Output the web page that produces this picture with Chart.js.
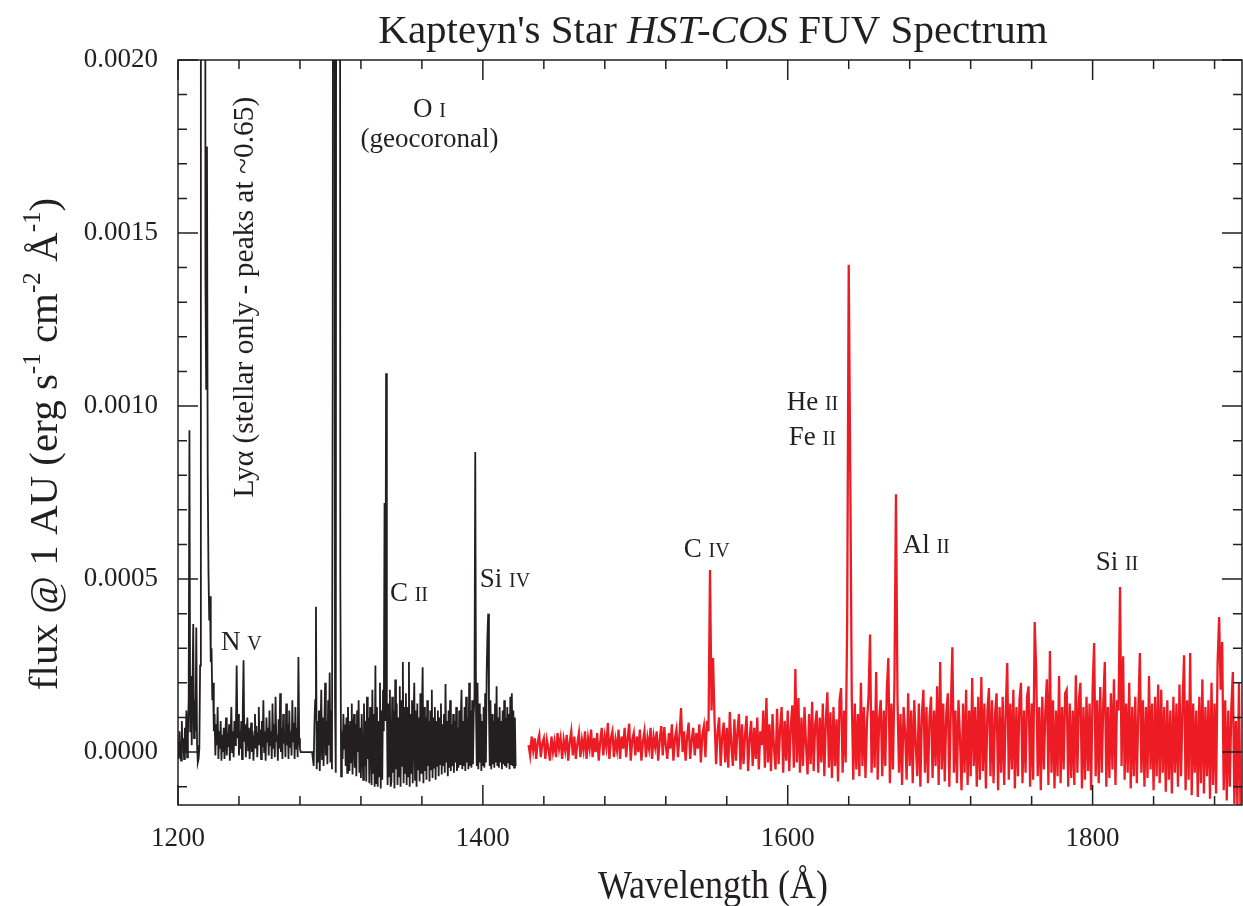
<!DOCTYPE html>
<html>
<head>
<meta charset="utf-8">
<script src="https://cdn.jsdelivr.net/npm/chart.js@4.4.1/dist/chart.umd.min.js"></script>
<style>
  body { margin: 0; background: #fff; }
  canvas { display: block; }
</style>
</head>
<body>
<canvas id="spectrum" width="1243" height="906"></canvas>
<script>
// flux values are in units of 1e-6 erg s^-1 cm^-2 A^-1
const FLUX_UNIT = 1e-6;

// G130M part (black), sampled every 0.5 A from 1200 A
const blackStart = 1200;
const blackStep = 0.5;
const blackFlux = [
  30, -20, 60, 5, -25, 90, 10, 40, -20, 70, 0, 120, -15, 50, 150, 930, 60, 220, 20, 180,
  370, 40, 150, 60, 360, 20, -30, -20, 10, 250, 2500, 6500, 6500, 6500, 6500, 6500, 1370, 1050, 1750, 800,
  520, 380, 450, 260, 300, 150, 200, 60, 110, -10, 80, 20, 130, -20, 60, 10, 90, -25, 50, 0,
  70, -20, 40, 100, -10, 55, 15, 80, -25, 45, 130, 0, 60, -15, 90, 20, 70, 250, 40, 110,
  -10, 60, 10, 90, -20, 120, 265, 30, 80, -15, 50, 100, 5, 70, -20, 40, 85, 0, 60, -25,
  45, 110, 10, 75, -15, 55, 130, 20, 65, -20, 90, 15, 150, 0, 60, -25, 100, 30, 70, -10,
  120, 20, 60, -20, 140, 10, 80, -15, 160, 30, 50, -25, 95, 10, 170, 0, 70, -20, 110, 25,
  60, -15, 140, 20, 80, -20, 120, 15, 60, -10, 150, 30, 85, -20, 130, 10, 70, -15, 275, 40,
  10, 0, 0, 0, 0, 0, 0, 0, 0, 0, 0, 0, 0, 0, 0, 0, 0, 0, -40, 80,
  150, 420, -50, 90, -30, 120, -55, 60, 180, -20, 100, -40, 70, 200, -10, 90, -35, 150, 20, 230,
  -30, 120, -50, 1100, 5000, 5000, 150, -60, 5000, 5000, 5000, 5000, 5000, 500, -70, 60, -20, 110, 10, 80,
  -40, 100, -60, 130, 20, -55, 90, -30, 140, -65, 60, 110, -45, 80, -70, 120, 0, 150, -60, 70,
  -75, 110, 10, -80, 140, -40, 90, -85, 160, -20, 100, -90, 130, 30, -95, 180, -60, 110, -100, 250,
  -90, 130, -100, 90, -70, 200, -105, 120, -80, 180, 60, 720, 90, 1095, 150, -95, 140, -70, 180, -100,
  -85, 160, -60, 120, -105, 210, -50, 140, -95, 100, -70, 190, -100, 150, -40, 260, -90, 130, -60, 170,
  -95, 130, -70, 260, -100, 110, -60, 150, -90, 90, 200, -80, 120, -100, 140, -50, 100, -85, 170, -60,
  110, 245, -90, 130, -55, 100, -80, 150, -40, 90, -85, 120, -50, 180, -75, 100, -45, 130, -80, 90,
  -40, 120, -70, 100, -35, 140, -65, 80, -40, 110, -60, 197, -30, 90, -70, 120, -45, 150, -55, 80,
  -40, 110, -60, 90, -30, 130, -55, 70, -45, 120, -35, 100, 180, -50, 90, -40, 130, -55, 160, -30,
  100, -50, 200, -40, 120, -45, 150, -35, 110, 160, 867, 120, -40, 200, -50, 140, -30, 110, -55, 90,
  -40, 130, -45, 170, -30, 230, 338, 400, 120, -40, 150, -50, 110, -35, 90, -45, 140, -30, 190, -40,
  100, -45, 130, -30, 90, -50, 120, -35, 150, -40, 100, -45, 130, -30, 110, -50, 160, -35, 170, -40, 120, -45, 100, -40
];

// G160M part (red), sampled every 1 A from 1430 A
const redStart = 1430;
const redStep = 1;
const redFlux = [
  20, -10, 45, 5, 40, -20, 30, 50, -15, 25,
  40, -20, 35, 10, -25, 45, 0, 30, -15, 55,
  10, 40, -20, 35, 5, 50, -25, 30, 60, -10,
  45, -20, 25, 55, -15, 35, 5, 60, -20, 40,
  10, 65, -15, 40, 0, 55, -25, 30, 70, -10,
  45, 15, 84, -20, 40, 60, -15, 35, 5, 65,
  -20, 45, 10, 70, -15, 40, 82, -25, 35, 55,
  -10, 45, 0, 65, -25, 30, 60, -15, 40, 10,
  70, -20, 45, 15, 60, -25, 35, 75, -10, 72,
  20, -20, 55, 10, 80, -25, 40, 65, -15, 50,
  127, 0, 60, -25, 45, 85, -20, 35, 70, -10,
  55, 10, 80, -30, 50, 75, -15, 90, 60, 526,
  120, 272, 90, -35, 60, 100, -40, 45, 85, -30,
  70, -45, 116, 20, -40, 95, -25, 60, 110, -50,
  80, -35, 50, 105, -55, 40, 90, -40, 70, -20,
  100, -50, 60, 20, 120, -45, 156, -30, 80, -55,
  110, 10, -50, 125, -35, 70, 130, -60, 90, -25,
  120, -55, 75, 135, -45, 240, -30, 156, -60, 100,
  -40, 130, 20, -65, 110, -35, 145, -55, 80, 120,
  -60, 100, -30, 140, -70, 90, 173, -45, 115, -75,
  130, -40, 95, -85, 150, 185, -60, 120, -30, 380,
  1408, 815, 160, -80, 140, -50, 110, -70, 200, -40,
  130, -75, 90, 160, 340, -60, 120, -45, 231, -80,
  100, 150, -70, 120, -40, 180, 272, -90, 140, -50,
  200, 745, 150, -60, 110, -95, 130, 60, -80, 170,
  -40, 120, -90, 150, 20, -70, 140, -100, 110, 180,
  -60, 130, -90, 100, 160, -75, 120, -40, 190, -95,
  260, -50, 140, -85, 110, 170, -100, 130, 303, -60,
  120, -90, 150, 40, -110, 140, -60, 180, -95, 120,
  -70, 214, -40, 130, -100, 160, -80, 217, -55, 140,
  -105, 120, 185, -70, 150, -90, 110, 170, -110, 130,
  -60, 160, -95, 120, 257, -80, 140, -50, 180, -105,
  130, -70, 150, 200, -90, 120, -60, 160, 190, -100,
  140, -80, 376, 237, -70, 130, -110, 160, -50, 120,
  210, -95, 292, -60, 150, -105, 120, -70, 220, -90,
  130, -50, 170, 180, -100, 140, -75, 120, -95, 222,
  -60, 150, 200, -105, 130, -80, 160, -55, 140, -110,
  180, 315, -70, 150, -90, 188, -60, 140, 260, -100,
  130, -75, 170, -50, 210, -95, 150, 120, 477, -40,
  277, -80, 140, -60, 200, -105, 130, -70, 160, -90,
  120, 286, -60, 150, -100, 130, -75, 220, -50, 140,
  -110, 160, -70, 195, -90, 180, -60, 130, -115, 150,
  -80, 120, -120, 160, -60, 140, -100, 195, -70, 130,
  280, -110, 150, -80, 286, -125, 140, -60, 120, -130,
  160, -90, 210, -120, 130, -70, 150, -135, 200, -95,
  140, -120, 257, 390, 180, 318, -110, 150, -140, 120,
  -100, 130, 231, -150, 90, -160, 200, -170
];

const xTicks = [1200, 1400, 1600, 1800];
const yTicks = [0, 0.0005, 0.0010, 0.0015, 0.0020];

// line identifications: [element, ion stage, wavelength, flux, align]
const lineIds = [
  ['O', 'I', 1365, 0.001835, 'center'],
  ['N', 'V', 1228.2, 0.000295, 'left'],
  ['C', 'II', 1339, 0.000436, 'left'],
  ['Si', 'IV', 1398, 0.000477, 'left'],
  ['C', 'IV', 1531.8, 0.000564, 'left'],
  ['He', 'II', 1599.3, 0.000988, 'left'],
  ['Fe', 'II', 1600.7, 0.000887, 'left'],
  ['Al', 'II', 1675.4, 0.000575, 'left'],
  ['Si', 'II', 1802, 0.000525, 'left']
];

const INK = '#231f20';
const RED = '#ed1c24';
const SERIF = '"Liberation Serif", "Times New Roman", serif';

function toPoints(start, step, values) {
  return values.map((v, i) => ({ x: start + i * step, y: v * FLUX_UNIT }));
}

function drawIon(ctx, x, y, el, ion, align) {
  ctx.font = '27px ' + SERIF;
  const w1 = ctx.measureText(el + ' ').width;
  ctx.font = '20px ' + SERIF;
  const w2 = ctx.measureText(ion).width;
  const x0 = align === 'center' ? x - (w1 + w2) / 2 : x;
  ctx.textAlign = 'left';
  ctx.font = '27px ' + SERIF;
  ctx.fillText(el, x0, y);
  ctx.font = '20px ' + SERIF;
  ctx.fillText(ion, x0 + w1, y);
}

function drawPieces(ctx, pieces, cx, baseline, size) {
  const supSize = Math.round(size * 0.6);
  let total = 0;
  pieces.forEach(p => {
    ctx.font = (p.sup ? supSize : size) + 'px ' + SERIF;
    total += ctx.measureText(p.t).width;
  });
  let x = cx - total / 2;
  ctx.textAlign = 'left';
  pieces.forEach(p => {
    ctx.font = (p.sup ? supSize : size) + 'px ' + SERIF;
    ctx.fillText(p.t, x, p.sup ? baseline - size * 0.42 : baseline);
    x += ctx.measureText(p.t).width;
  });
}

const decorations = {
  id: 'decorations',
  afterDatasetsDraw(chart) {
    const { ctx, chartArea: a, scales: { x, y } } = chart;
    ctx.save();
    ctx.strokeStyle = INK;
    ctx.lineWidth = 1.5;
    ctx.strokeRect(a.left, a.top, a.right - a.left, a.bottom - a.top);

    // inward tick marks on all four sides, minor every 40 A / 0.0001
    ctx.beginPath();
    for (let k = 0; 1200 + k * 40 <= x.max; k++) {
      const px = x.getPixelForValue(1200 + k * 40);
      const len = k % 5 === 0 ? 20 : 9;
      ctx.moveTo(px, a.bottom); ctx.lineTo(px, a.bottom - len);
      ctx.moveTo(px, a.top); ctx.lineTo(px, a.top + len);
    }
    for (let k = -1; k <= 20; k++) {
      const py = y.getPixelForValue(k * 0.0001);
      const len = k % 5 === 0 ? 20 : 9;
      ctx.moveTo(a.left, py); ctx.lineTo(a.left + len, py);
      ctx.moveTo(a.right, py); ctx.lineTo(a.right - len, py);
    }
    ctx.stroke();

    ctx.fillStyle = INK;
    ctx.textBaseline = 'alphabetic';
    lineIds.forEach(([el, ion, wl, f, align]) => {
      drawIon(ctx, x.getPixelForValue(wl), y.getPixelForValue(f), el, ion, align);
    });
    ctx.font = '27px ' + SERIF;
    ctx.textAlign = 'center';
    ctx.fillText('(geocoronal)', x.getPixelForValue(1365), y.getPixelForValue(0.001749));

    // Ly-alpha note, rotated
    ctx.save();
    ctx.translate(x.getPixelForValue(1243.9), y.getPixelForValue(0.001315));
    ctx.rotate(-Math.PI / 2);
    ctx.textAlign = 'center';
    ctx.textBaseline = 'middle';
    ctx.font = '29.5px ' + SERIF;
    ctx.fillText('Ly\u03b1 (stellar only - peaks at ~0.65)', 0, 0);
    ctx.restore();

    // title
    ctx.textBaseline = 'alphabetic';
    const parts = [['Kapteyn\'s Star ', ''], ['HST-COS', 'italic '], [' FUV Spectrum', '']];
    let tw = 0;
    parts.forEach(([t, s]) => { ctx.font = s + '41px ' + SERIF; tw += ctx.measureText(t).width; });
    let tx = 713 - tw / 2;
    ctx.textAlign = 'left';
    parts.forEach(([t, s]) => {
      ctx.font = s + '41px ' + SERIF;
      ctx.fillText(t, tx, 43);
      tx += ctx.measureText(t).width;
    });

    // axis titles
    ctx.save();
    ctx.translate(713, 898);
    ctx.scale(0.9, 1);
    ctx.font = '40px ' + SERIF;
    ctx.textAlign = 'center';
    ctx.fillText('Wavelength (\u00c5)', 0, 0);
    ctx.restore();

    ctx.save();
    ctx.translate(57, 444);
    ctx.rotate(-Math.PI / 2);
    drawPieces(ctx, [
      { t: 'flux @ 1 AU (erg s' }, { t: '-1', sup: true },
      { t: ' cm' }, { t: '-2', sup: true },
      { t: ' \u00c5' }, { t: '-1', sup: true }, { t: ')' }
    ], 0, 0, 41);
    ctx.restore();
    ctx.restore();
  }
};

new Chart(document.getElementById('spectrum'), {
  type: 'line',
  data: {
    datasets: [
      {
        data: toPoints(blackStart, blackStep, blackFlux),
        borderColor: INK,
        borderWidth: 1.8,
        pointRadius: 0,
        tension: 0
      },
      {
        data: toPoints(redStart, redStep, redFlux),
        borderColor: RED,
        borderWidth: 2.3,
        pointRadius: 0,
        tension: 0
      }
    ]
  },
  options: {
    responsive: false,
    animation: false,
    devicePixelRatio: 1,
    layout: { padding: { top: 60, right: 1, left: 0, bottom: 0 } },
    plugins: { legend: { display: false }, tooltip: { enabled: false } },
    scales: {
      x: {
        type: 'linear',
        min: 1200,
        max: 1898,
        afterFit: s => { s.height = 101; },
        afterBuildTicks: s => { s.ticks = xTicks.map(v => ({ value: v })); },
        grid: { display: false, drawTicks: false },
        border: { display: false },
        ticks: {
          color: INK,
          font: { family: SERIF, size: 27 },
          padding: 18,
          maxRotation: 0,
          autoSkip: false,
          callback: v => String(v)
        }
      },
      y: {
        min: -0.000153,
        max: 0.002,
        afterFit: s => { s.width = 178; },
        afterBuildTicks: s => { s.ticks = yTicks.map(v => ({ value: v })); },
        grid: { display: false, drawTicks: false },
        border: { display: false },
        ticks: {
          color: INK,
          font: { family: SERIF, size: 27 },
          padding: 20,
          callback: v => v.toFixed(4)
        }
      }
    }
  },
  plugins: [decorations]
});
</script>
</body>
</html>
